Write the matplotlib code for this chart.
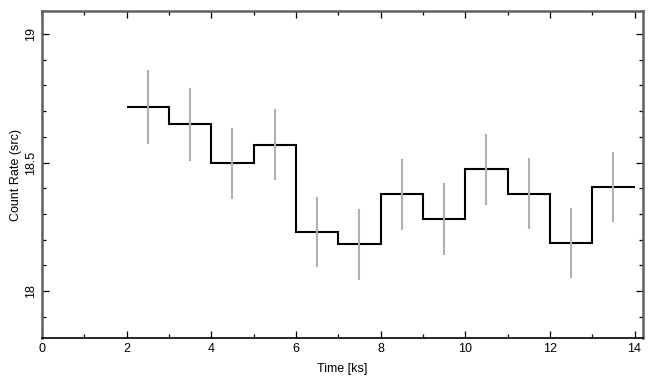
import matplotlib.pyplot as plt
import numpy as np
from matplotlib.ticker import MultipleLocator

# bins (ks) and rates
edges = [2, 3, 4, 5, 6, 7, 8, 9, 10, 11, 12, 13, 14]
rate = [18.717, 18.650, 18.497, 18.569, 18.231, 18.181, 18.377, 18.280, 18.474, 18.379, 18.188, 18.404]
err = [0.145, 0.142, 0.138, 0.138, 0.136, 0.137, 0.138, 0.139, 0.139, 0.138, 0.137, 0.136]

plt.rcParams['font.family'] = ['Liberation Sans', 'DejaVu Sans']

fig = plt.figure(figsize=(6.55, 3.85), dpi=100)
ax = fig.add_axes([0.0641, 0.1221, 0.9176, 0.8493])

centers = [(a + b) / 2 for a, b in zip(edges[:-1], edges[1:])]
ax.errorbar(centers, rate, yerr=err, fmt='none', ecolor='#b0b0b0', elinewidth=1.5, capsize=0)
ax.stairs(rate, edges, color='black', linewidth=1.5, baseline=None)

ax.set_xlim(0, 14.2)
ax.set_ylim(17.817, 19.09)
ax.xaxis.set_major_locator(MultipleLocator(2))
ax.xaxis.set_minor_locator(MultipleLocator(1))
ax.yaxis.set_major_locator(MultipleLocator(0.5))
ax.yaxis.set_minor_locator(MultipleLocator(0.1))
ax.set_yticks([18, 18.5, 19])
ax.set_yticklabels(['18', '18.5', '19'], rotation=90, va='center')

ax.tick_params(which='both', direction='in', top=True, right=True, labelsize=9)
ax.tick_params(which='major', length=5, width=0.9)
ax.tick_params(which='minor', length=3, width=0.9)

for s in ['left', 'right', 'top']:
    ax.spines[s].set_color('#606060')
    ax.spines[s].set_linewidth(1.8)
ax.spines['bottom'].set_linewidth(1.2)

ax.set_xlabel('Time [ks]', fontsize=9, labelpad=6)
ax.set_ylabel('Count Rate (src)', fontsize=9, labelpad=2)

plt.savefig('out.png', dpi=100)
